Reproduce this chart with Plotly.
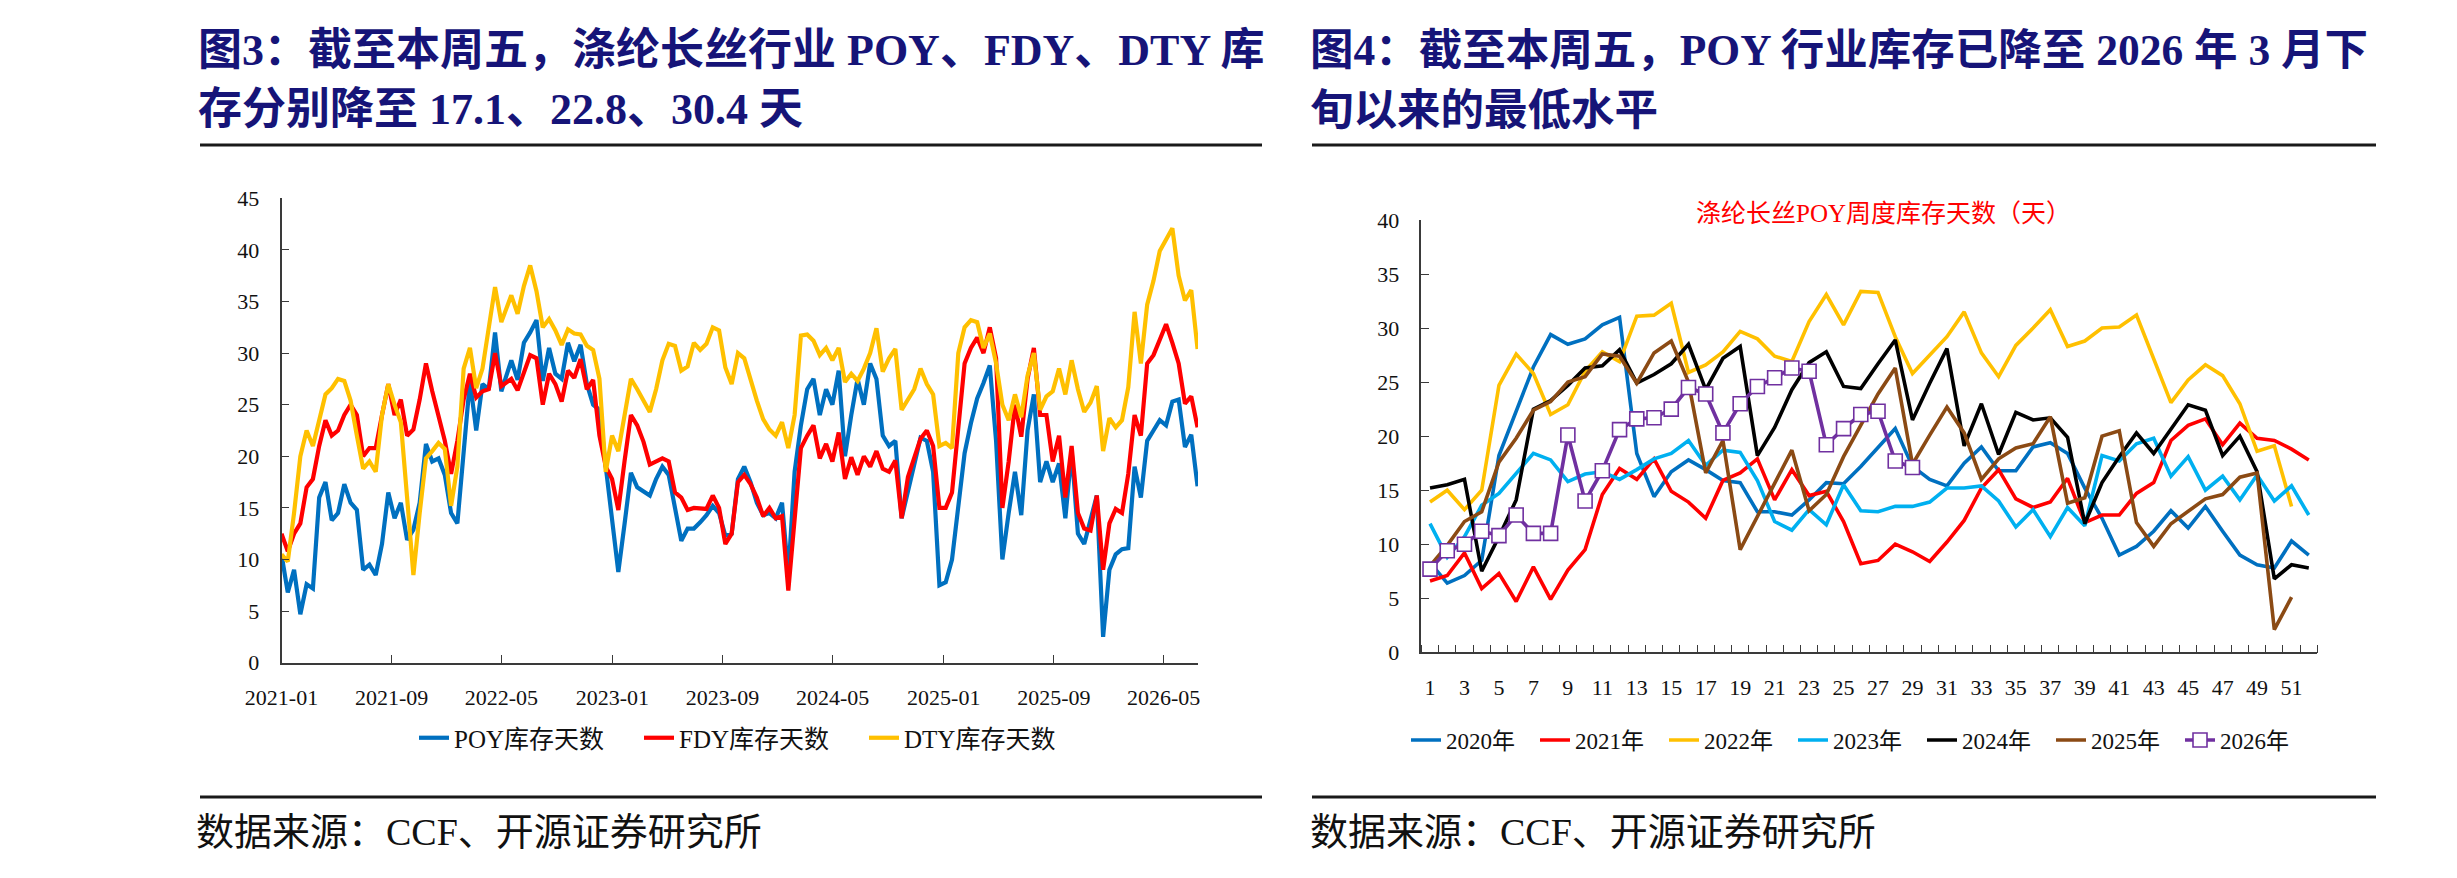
import pandas as pd
import plotly.graph_objects as go

# window size; the page body adds an 8px margin, so the figure is drawn 16px smaller
W, H = 2457, 878
OFF = 8
FIG_W, FIG_H = W - 2 * OFF, H - 2 * OFF

# =====================================================
# LEFT CHART - WEEKLY INVENTORY DAYS (POY / FDY / DTY)
# =====================================================

dates_a = pd.date_range("2021-01-01", "2022-05-01", periods=36)
dates_b = pd.date_range("2022-05-23", "2026-07-15", periods=110)
dates = list(dates_a) + list(dates_b)

poy = [
    10.5, 6.8, 9.0, 4.7, 7.6, 7.2, 16.0, 17.5, 13.8, 14.5,
    17.3, 15.5, 14.8, 9.0, 9.5, 8.5, 11.5, 16.5, 14.0, 15.5,
    11.9, 12.9, 15.5, 21.2, 19.5, 19.8, 18.2, 14.5, 13.5, 20.0,
    27.3, 22.5, 27.0, 26.5, 32.0, 26.3, 29.3, 27.4, 31.0, 32.0,
    33.2, 27.3, 30.5, 28.0, 27.5, 31.0, 29.2, 30.8, 27.0, 25.0,
    24.5, 19.0, 13.5, 8.8, 13.5, 18.4, 17.0, 16.6, 16.2, 17.8,
    19.0, 18.2, 14.8, 11.8, 13.0, 13.0, 13.6, 14.3, 15.2, 14.5,
    12.3, 12.5, 17.8, 19.0, 17.5, 15.5, 14.3, 14.5, 14.0, 15.5,
    8.5, 18.5, 23.0, 26.5, 27.5, 24.0, 26.5, 25.0, 28.3, 20.0,
    24.0, 27.5, 25.0, 29.0, 27.5, 22.0, 21.0, 21.5, 14.0, 16.5,
    19.0, 21.8, 21.5, 18.5, 7.5, 7.8, 10.0, 15.5, 20.3, 23.2,
    25.6, 27.1, 28.8, 21.5, 10.0, 14.5, 18.5, 14.3, 22.5, 26.0,
    17.5, 19.5, 17.5, 19.3, 14.0, 20.5, 12.5, 11.5, 13.8, 16.2,
    2.5, 9.0, 10.5, 11.0, 11.1, 19.0, 16.0, 21.5, 22.5, 23.5,
    23.0, 25.3, 25.5, 20.9, 22.1, 17.1,
]

fdy = [
    12.5, 10.8, 12.5, 13.5, 17.0, 17.8, 21.0, 23.5, 22.0, 22.5,
    24.0, 25.0, 24.0, 20.0, 20.8, 20.8, 24.0, 27.0, 24.0, 25.5,
    22.0, 22.6, 25.5, 29.0, 26.3, 24.0, 21.5, 18.3, 21.5, 25.5,
    28.0, 25.7, 26.3, 26.5, 30.0, 26.8, 27.5, 26.4, 28.0, 29.8,
    29.5, 25.0, 28.0, 27.0, 25.3, 28.3, 27.6, 29.4, 26.5, 27.4,
    22.0, 19.0, 17.8, 14.8, 19.6, 24.0, 23.0, 21.4, 19.2, 19.5,
    19.8, 19.5, 16.5, 16.0, 14.8, 15.0, 15.0, 14.9, 16.2, 15.0,
    11.5, 12.5, 17.5, 18.2, 17.3, 16.0, 14.2, 15.0, 14.0, 14.2,
    7.0, 13.5, 20.8, 22.0, 23.0, 19.8, 21.2, 19.5, 22.3, 17.8,
    19.9, 18.2, 20.0, 19.0, 20.5, 18.8, 18.5, 19.6, 14.0, 18.0,
    20.0, 21.7, 22.5, 21.0, 15.0, 15.0, 16.5, 22.5, 29.0, 30.5,
    31.5, 30.0, 32.5, 29.5, 15.0, 19.5, 25.0, 21.9, 27.5, 30.5,
    24.0, 24.0, 19.5, 22.0, 16.0, 21.0, 14.5, 13.0, 12.8, 16.2,
    9.0, 13.5, 14.9, 14.5, 18.3, 24.0, 22.0, 29.0, 29.8, 31.3,
    32.8, 31.0, 29.0, 25.1, 25.8, 22.8,
]

dty = [
    10.5, 9.8, 14.5, 20.0, 22.5, 21.0, 23.5, 26.0, 26.6, 27.5,
    27.3, 25.4, 22.0, 18.8, 19.5, 18.5, 24.0, 27.0, 25.0, 23.3,
    16.0, 8.5, 14.5, 19.8, 20.5, 21.3, 20.7, 15.2, 19.0, 28.5,
    30.5, 26.6, 28.5, 32.2, 36.4, 33.0, 35.6, 33.8, 36.5, 38.5,
    36.0, 32.5, 33.3, 32.2, 30.8, 32.3, 31.9, 31.8, 30.7, 30.3,
    27.5, 18.5, 22.0, 20.5, 24.0, 27.5, 26.5, 25.3, 24.3, 26.5,
    29.3, 30.9, 30.7, 28.3, 28.7, 31.0, 30.3, 30.9, 32.5, 32.2,
    28.6, 27.0, 30.0, 29.5, 27.3, 25.4, 23.6, 22.6, 22.0, 23.3,
    20.8, 24.0, 31.7, 31.8, 31.2, 29.8, 30.5, 29.3, 30.5, 27.2,
    28.0, 27.3, 28.5, 30.0, 32.4, 28.2, 29.5, 30.4, 24.5, 25.5,
    26.5, 28.5, 27.0, 26.0, 21.0, 21.3, 20.8, 30.0, 32.5, 33.2,
    33.0, 30.5, 31.9, 29.0, 25.0, 23.5, 26.0, 23.8, 27.8, 30.0,
    24.5, 25.8, 26.3, 28.5, 26.0, 29.3, 26.5, 24.3, 25.2, 26.8,
    20.5, 23.7, 22.8, 23.5, 26.7, 34.0, 29.0, 34.7, 37.0, 39.9,
    41.1, 42.1, 37.5, 35.1, 36.1, 30.4,
]

left_tick_dates = ["2021-01-01", "2021-09-01", "2022-05-01", "2023-01-01", "2023-09-01",
                   "2024-05-01", "2025-01-01", "2025-09-01", "2026-05-01"]
left_tick_text = ["2021-01", "2021-09", "2022-05", "2023-01", "2023-09",
                  "2024-05", "2025-01", "2025-09", "2026-05"]

# =====================================================
# RIGHT CHART - POY INVENTORY DAYS BY WEEK OF YEAR
# =====================================================

weeks = list(range(1, 53))

y2020 = [8.3, 6.4, 7.1, 8.5, 18.2, 22.4, 26.4, 29.4, 28.5, 29.0, 30.3, 31.0, 18.4,
         14.4, 16.7, 17.8, 16.9, 15.9, 15.7, 13.0, 13.0, 12.7, 14.1, 15.7, 15.6, 17.2,
         19.0, 20.7, 17.2, 16.0, 15.4, 17.5, 19.0, 16.8, 16.8, 19.0, 19.4, 18.4, 15.2,
         12.4, 9.0, 9.8, 11.2, 13.1, 11.5, 13.5, 11.2, 9.0, 8.1, 7.8, 10.3, 9.0]
y2021 = [6.6, 7.1, 9.2, 5.9, 7.3, 4.7, 7.9, 4.9, 7.6, 9.5, 14.6, 17.0, 16.0,
         17.9, 14.9, 13.9, 12.4, 15.9, 16.6, 17.9, 14.1, 16.9, 14.5, 14.9, 12.1, 8.2,
         8.5, 10.0, 9.3, 8.4, 10.2, 12.2, 15.2, 16.9, 14.2, 13.4, 13.9, 16.1, 12.0,
         12.7, 12.7, 14.7, 15.7, 19.6, 21.0, 21.6, 19.2, 21.2, 19.8, 19.6, 18.8, 17.8]
y2022 = [13.9, 15.0, 13.2, 15.0, 24.7, 27.6, 25.8, 22.0, 22.9, 26.0, 27.8, 26.9, 31.1,
         31.2, 32.3, 25.9, 26.6, 27.8, 29.7, 29.0, 27.4, 26.9, 30.6, 33.1, 30.3, 33.4,
         33.3, 29.2, 25.8, 27.5, 29.2, 31.5, 27.7, 25.5, 28.4, 30.0, 31.7, 28.3, 28.8,
         30.0, 30.1, 31.2, 27.2, 23.1, 25.2, 26.6, 25.6, 23.0, 18.6, 19.1, 13.5, None]
y2023 = [11.9, 8.8, 10.7, 13.6, 14.7, 16.5, 18.4, 17.8, 15.8, 16.5, 16.7, 16.0, 16.9,
         17.9, 18.4, 19.6, 17.3, 18.7, 18.5, 15.9, 12.1, 11.3, 13.2, 11.8, 15.5, 13.1,
         13.0, 13.5, 13.5, 13.9, 15.2, 15.2, 15.4, 14.0, 11.6, 13.2, 10.7, 13.4, 11.7,
         18.2, 17.7, 19.3, 19.8, 16.3, 18.1, 15.0, 16.3, 14.1, 16.4, 14.0, 15.4, 12.7]
y2024 = [15.2, 15.5, 16.0, 7.5, 10.7, 14.1, 22.5, 23.3, 24.7, 26.3, 26.5, 28.0, 24.9,
         25.7, 26.7, 28.5, 24.3, 27.2, 28.3, 18.2, 20.8, 24.3, 26.8, 27.8, 24.6, 24.4,
         26.7, 28.9, 21.5, 24.9, 28.1, 19.1, 23.0, 18.3, 22.2, 21.5, 21.7, 19.9, 11.9,
         15.7, 18.1, 20.3, 18.4, 20.7, 22.9, 22.4, 18.2, 20.0, 16.7, 6.8, 8.1, 7.8]
y2025 = [8.0, 9.9, 12.1, 13.0, 17.6, 19.8, 22.4, 23.2, 25.0, 25.5, 27.6, 27.4, 24.9,
         27.7, 28.8, 25.0, 16.6, 19.6, 9.5, 12.6, 15.6, 18.7, 13.1, 14.6, 18.1, 21.0,
         23.9, 26.3, 17.4, 20.1, 22.7, 20.3, 16.0, 17.9, 18.9, 19.3, 21.8, 13.8, 14.3,
         20.0, 20.5, 12.0, 9.8, 11.9, 13.1, 14.2, 14.6, 16.2, 16.6, 2.1, 5.1, None]
y2026 = [7.7, 9.4, 10.0, 11.2, 10.8, 12.7, 11.0, 11.0, 20.1, 14.0, 16.8, 20.6, 21.6,
         21.7, 22.5, 24.5, 23.9, 20.3, 23.0, 24.6, 25.4, 26.3, 26.0, 19.2, 20.7, 22.0,
         22.3, 17.7, 17.1]

year_series = [
    ("2020年", y2020, "#0070C0"),
    ("2021年", y2021, "#FF0000"),
    ("2022年", y2022, "#FFC000"),
    ("2023年", y2023, "#00B0F0"),
    ("2024年", y2024, "#000000"),
    ("2025年", y2025, "#8B4A14"),
]

# =====================================================
# FIGURE
# =====================================================

FONT = "Liberation Serif, Noto Sans CJK SC"
AXIS_COLOR = "#3a3a3a"
TITLE_COLOR = "#161478"

fig = go.Figure()

for name, vals, color in [("POY库存天数", poy, "#0070C0"),
                          ("FDY库存天数", fdy, "#FF0000"),
                          ("DTY库存天数", dty, "#FFC000")]:
    fig.add_trace(go.Scatter(
        x=dates, y=vals, name=name, mode="lines",
        line=dict(color=color, width=4.2),
        xaxis="x", yaxis="y", legend="legend",
    ))

for name, vals, color in year_series:
    fig.add_trace(go.Scatter(
        x=weeks[:len(vals)], y=vals, name=name, mode="lines",
        line=dict(color=color, width=3.6),
        xaxis="x2", yaxis="y2", legend="legend2",
    ))

fig.add_trace(go.Scatter(
    x=weeks[:len(y2026)], y=y2026, name="2026年", mode="lines+markers",
    line=dict(color="#7030A0", width=3.6),
    marker=dict(symbol="square", size=14, color="white",
                line=dict(color="#7030A0", width=1.6)),
    xaxis="x2", yaxis="y2", legend="legend2",
))


# screen pixel -> paper fraction
def px_x(v):
    return (v - OFF) / FIG_W


def px_y(v):
    return 1 - (v - OFF) / FIG_H


axis_common = dict(
    showline=True, linecolor=AXIS_COLOR, linewidth=1.6,
    showgrid=False, zeroline=False, automargin=False,
    ticks="inside", ticklen=8, tickwidth=1.4, tickcolor=AXIS_COLOR,
    tickfont=dict(family="Liberation Serif", size=22, color="#111111"),
)

fig.update_layout(
    width=FIG_W, height=FIG_H, autosize=False,
    margin=dict(l=0, r=0, t=0, b=0, pad=0),
    paper_bgcolor="white", plot_bgcolor="white",
    font=dict(family=FONT, color="#111111"),
    xaxis=dict(
        **axis_common, type="date", anchor="y",
        domain=[px_x(281.5), px_x(1198)],
        range=["2021-01-01", "2026-07-16"],
        tickmode="array", tickvals=left_tick_dates, ticktext=left_tick_text,
        ticklabelstandoff=14,
    ),
    yaxis=dict(
        **axis_common, anchor="x",
        domain=[px_y(662.7), px_y(198.3)],
        range=[0, 45], dtick=5, ticklabelstandoff=16,
    ),
    xaxis2=dict(
        showline=True, linecolor=AXIS_COLOR, linewidth=1.6,
        showgrid=False, zeroline=False, automargin=False, anchor="y2",
        domain=[px_x(1421.4), px_x(2317.4)],
        range=[0.5, 52.5],
        tickmode="array", tickvals=weeks[::2], ticks="",
        tickfont=dict(family="Liberation Serif", size=22, color="#111111"),
        minor=dict(tickmode="linear", tick0=0.5, dtick=1, ticks="inside",
                   ticklen=8, tickwidth=1.4, tickcolor=AXIS_COLOR),
        ticklabelstandoff=14,
    ),
    yaxis2=dict(
        **axis_common, anchor="x2",
        domain=[px_y(652.3), px_y(220)],
        range=[0, 40], dtick=5, ticklabelstandoff=16,
    ),
    legend=dict(
        orientation="h", x=px_x(414), y=px_y(738), xanchor="left", yanchor="middle",
        entrywidth=180, entrywidthmode="pixels",
        font=dict(family=FONT, size=25, color="#111111"),
        bgcolor="rgba(0,0,0,0)",
    ),
    legend2=dict(
        orientation="h", x=px_x(1406), y=px_y(740), xanchor="left", yanchor="middle",
        entrywidth=84, entrywidthmode="pixels",
        font=dict(family=FONT, size=23, color="#111111"),
        bgcolor="rgba(0,0,0,0)",
    ),
)

# rules above and below each panel
for x0, x1 in [(200, 1262), (1312, 2376)]:
    for yy in (145, 797):
        fig.add_shape(type="line", xref="paper", yref="paper",
                      x0=px_x(x0), x1=px_x(x1), y0=px_y(yy), y1=px_y(yy),
                      line=dict(color="#1a1a1a", width=3))

annotations = [
    (196, 50, "<b>图3：截至本周五，涤纶长丝行业 POY、FDY、DTY 库</b>", 44, TITLE_COLOR),
    (196, 110, "<b>存分别降至 17.1、22.8、30.4 天</b>", 44, TITLE_COLOR),
    (1308, 50, "<b>图4：截至本周五，POY 行业库存已降至 2026 年 3 月下</b>", 43.5, TITLE_COLOR),
    (1308, 110, "<b>旬以来的最低水平</b>", 43.5, TITLE_COLOR),
    (194, 832, "数据来源：CCF、开源证券研究所", 38, "#111111"),
    (1308, 832, "数据来源：CCF、开源证券研究所", 38, "#111111"),
]
for x, y, text, size, color in annotations:
    fig.add_annotation(
        x=px_x(x), y=px_y(y), xref="paper", yref="paper",
        xanchor="left", yanchor="middle", showarrow=False,
        text=text, font=dict(family=FONT, size=size, color=color),
    )

fig.add_annotation(
    x=px_x(1883), y=px_y(213), xref="paper", yref="paper",
    xanchor="center", yanchor="middle", showarrow=False,
    text="涤纶长丝POY周度库存天数（天）",
    font=dict(family=FONT, size=25, color="#FF0000"),
)

fig.write_html("out.html")
